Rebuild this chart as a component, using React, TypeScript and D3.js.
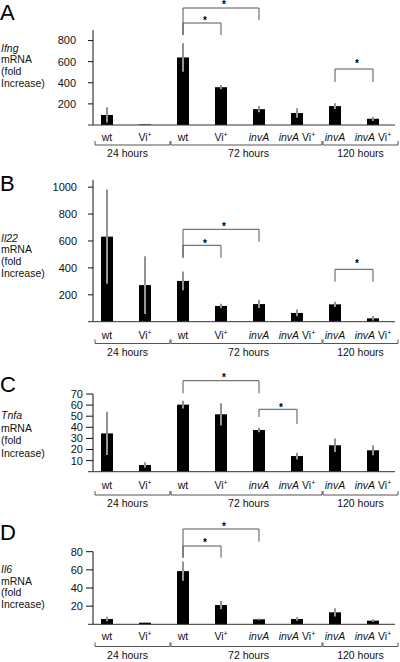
import React from "react";
import * as d3 from "d3";

// ---------- data ----------
const categories = ["wt", "Vi+", "wt", "Vi+", "invA", "invA Vi+", "invA", "invA Vi+"];
const groupLabels = ["24 hours", "72 hours", "120 hours"];
const groupStarts = [0, 2, 6];

const ifngMean = [95, 5, 640, 358, 150, 113, 179, 59];
const ifngSd = [72, 0, 135, 20, 30, 45, 28, 20];
const ifngTicks = [200, 400, 600, 800];

const il22Mean = [632, 272, 303, 117, 131, 65, 129, 25];
const il22Sd = [350, 215, 70, 17, 30, 25, 20, 17];
const il22Ticks = [200, 400, 600, 800, 1000];

const tnfaMean = [34.5, 6, 60.4, 51.7, 37.6, 14.1, 23.8, 19.3];
const tnfaSd = [19.5, 2.5, 3.5, 10, 2, 3, 6, 4.5];
const tnfaTicks = [10, 20, 30, 40, 50, 60, 70];

const il6Mean = [5.8, 1.8, 58.6, 21.2, 5.5, 5.8, 13.2, 4];
const il6Sd = [2.5, 0, 10.5, 4.5, 1, 2, 4.5, 1.5];
const il6Ticks = [20, 40, 60, 80];

// significant comparisons (category indices)
const ifngComps = [[2, 4], [2, 3], [6, 7]];
const il22Comps = [[2, 4], [2, 3], [6, 7]];
const tnfaComps = [[2, 4], [4, 5]];
const il6Comps = [[2, 4], [2, 3]];

// ---------- layout ----------
const FONT = "'Liberation Sans', Arial, Helvetica, sans-serif";
const NARROW = "'Liberation Sans Narrow', 'Liberation Sans', Arial, sans-serif";

const panels = [
  {
    letter: "A", gene: "Ifng", mean: ifngMean, sd: ifngSd, ticks: ifngTicks, max: 900, comps: ifngComps,
    L: {
      axisTop: 30, base: 125, letterY: 20, titleY: 51.7, titleStep: 11.7,
      tickFont: FONT, tickRight: 76, tickLen: 5, labelY: 141, bracketY: 145, groupY: 157,
      sig: [
        { top: 8, lb: 35, rb: 20, star: 2 },
        { top: 23, lb: 35, rb: 35, star: 18 },
        { top: 69, lb: 82, rb: 82, star: 61 },
      ],
    },
  },
  {
    letter: "B", gene: "Il22", mean: il22Mean, sd: il22Sd, ticks: il22Ticks, max: 1053, comps: il22Comps,
    L: {
      axisTop: 180, base: 321.7, letterY: 191, titleY: 241.7, titleStep: 11.7,
      tickFont: FONT, tickRight: 77, tickLen: 5, labelY: 338.5, bracketY: 343.5, groupY: 356,
      sig: [
        { top: 229.3, lb: 257.7, rb: 241.7, star: 224 },
        { top: 245.3, lb: 257.7, rb: 257.7, star: 241 },
        { top: 269.3, lb: 281.7, rb: 281.7, star: 261 },
      ],
    },
  },
  {
    letter: "C", gene: "Tnfa", mean: tnfaMean, sd: tnfaSd, ticks: tnfaTicks, max: 70, comps: tnfaComps,
    L: {
      axisTop: 394, base: 471.7, letterY: 392, titleY: 419.3, titleStep: 12.4,
      tickFont: NARROW, tickRight: 83, tickLen: 7, labelY: 489, bracketY: 495, groupY: 507,
      sig: [
        { top: 380.7, lb: 393.3, rb: 393.3, star: 375 },
        { top: 409.3, lb: 417, rb: 424, star: 405 },
      ],
    },
  },
  {
    letter: "D", gene: "Il6", mean: il6Mean, sd: il6Sd, ticks: il6Ticks, max: 80, comps: il6Comps,
    L: {
      axisTop: 551.7, base: 624.3, letterY: 540, titleY: 573, titleStep: 11.7,
      tickFont: NARROW, tickRight: 83, tickLen: 7, labelY: 640, bracketY: 646.5, groupY: 658.5,
      sig: [
        { top: 529, lb: 557.7, rb: 541.7, star: 524.3 },
        { top: 546, lb: 557.7, rb: 557.7, star: 540.7 },
      ],
    },
  },
];

const x = d3.scalePoint<number>().domain(d3.range(categories.length)).range([88, 392]).padding(0.5);
const step = x.step();
const BAR_W = 12;

function CatLabel({ cat, cx, y }: { cat: string; cx: number; y: number }) {
  const sup = <tspan fontSize={7} dy={-4}>+</tspan>;
  let content: React.ReactNode;
  if (cat === "wt") content = "wt";
  else if (cat === "Vi+") content = <>Vi{sup}</>;
  else if (cat === "invA") content = <tspan fontStyle="italic">invA</tspan>;
  else content = <><tspan fontStyle="italic">invA</tspan> Vi{sup}</>;
  return (
    <text x={cx} y={y} textAnchor="middle" fontSize={10.5} fill="#111">
      {content}
    </text>
  );
}

function Panel({ p }: { p: (typeof panels)[number] }) {
  const L = p.L;
  const y = d3.scaleLinear().domain([0, p.max]).range([L.base, L.axisTop]);
  const titleLines = ["mRNA", "(fold", "Increase)"];
  return (
    <g>
      <text x={0} y={L.letterY} fontSize={22} fill="#000">{p.letter}</text>
      <text x={1} y={L.titleY} fontSize={10.5} fontStyle="italic" fill="#111">{p.gene}</text>
      {titleLines.map((t, i) => (
        <text key={t} x={1} y={L.titleY + L.titleStep * (i + 1)} fontSize={10.5} fill="#111">{t}</text>
      ))}
      {/* y axis */}
      <line x1={93} x2={93} y1={L.axisTop} y2={L.base} stroke="#111" strokeWidth={1} />
      {p.ticks.map((t) => (
        <g key={t}>
          <line x1={93 - L.tickLen} x2={93} y1={y(t)} y2={y(t)} stroke="#111" strokeWidth={1} />
          <text x={L.tickRight} y={y(t) + 3.9} textAnchor="end" fontSize={11} fontFamily={L.tickFont} fill="#111">
            {t}
          </text>
        </g>
      ))}
      {/* bars */}
      {p.mean.map((m, i) => {
        const cx = x(i)!;
        const sd = p.sd[i];
        const lo = Math.max(0, m - sd);
        const hi = m + sd;
        return (
          <g key={i}>
            <rect x={cx - BAR_W / 2} y={y(m)} width={BAR_W} height={L.base - y(m)} fill="#000" />
            {sd > 0 && (
              <>
                <line x1={cx} x2={cx} y1={y(lo)} y2={y(m)} stroke="#e6e6e6" strokeWidth={1.3} />
                <line x1={cx} x2={cx} y1={y(m)} y2={y(hi)} stroke="#5a5a5a" strokeWidth={1.3} />
              </>
            )}
          </g>
        );
      })}
      {/* baseline */}
      <line x1={88} x2={395} y1={L.base} y2={L.base} stroke="#333" strokeWidth={1} />
      {/* category labels */}
      {categories.map((c, i) => (
        <CatLabel key={i} cat={c} cx={x(i)!} y={L.labelY} />
      ))}
      {/* group brackets */}
      {groupLabels.map((g, gi) => {
        const first = groupStarts[gi];
        const next = gi + 1 < groupStarts.length ? groupStarts[gi + 1] : categories.length;
        const x0 = x(first)! - 12;
        const x1 = x(first)! + (next - first) * step - 13;
        const by = L.bracketY;
        return (
          <g key={g}>
            <path d={`M${x0},${by - 4}V${by}H${x1}V${by - 4}`} fill="none" stroke="#555" strokeWidth={1} />
            <text x={(x0 + x1) / 2 - (gi === 0 ? 5 : gi === 1 ? -2 : 0)} y={L.groupY} textAnchor="middle" fontSize={10.5} fill="#111">
              {g}
            </text>
          </g>
        );
      })}
      {/* significance brackets */}
      {p.comps.map(([a, b], k) => {
        const s = L.sig[k];
        const xa = x(a)!;
        const xb = x(b)!;
        return (
          <g key={k}>
            <path d={`M${xa},${s.lb}V${s.top}H${xb}V${s.rb}`} fill="none" stroke="#555" strokeWidth={1} />
            <text x={(xa + xb) / 2 + 3} y={s.star + 5.7} textAnchor="middle" fontSize={10} fontWeight="bold" fill="#000">*</text>
          </g>
        );
      })}
    </g>
  );
}

export default function App() {
  return (
    <svg
      width={400}
      height={662}
      style={{ position: "absolute", left: 0, top: 0, background: "#fff" }}
      fontFamily={FONT}
    >
      <rect width={400} height={662} fill="#fff" />
      {panels.map((p) => (
        <Panel key={p.letter} p={p} />
      ))}
    </svg>
  );
}
